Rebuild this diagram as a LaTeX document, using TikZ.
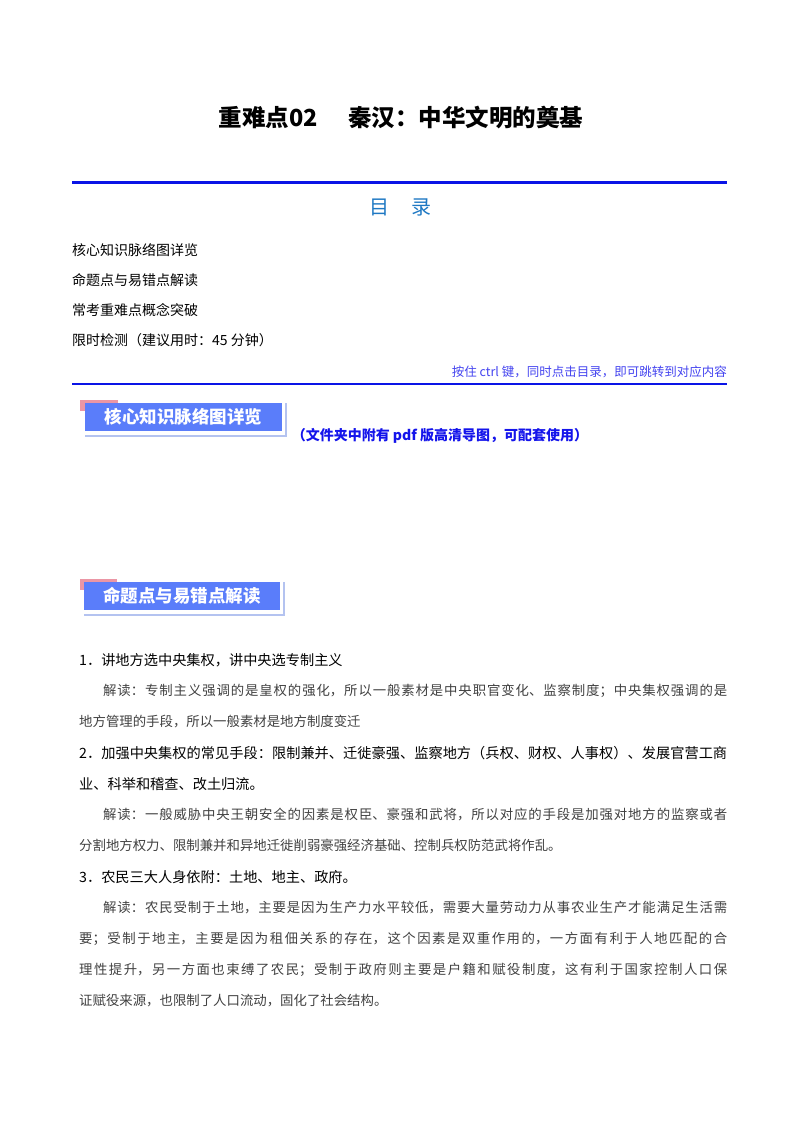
\documentclass[tikz,border=0pt]{standalone}
\usepackage{fontspec}
\setmainfont{Noto Sans CJK SC}
\XeTeXlinebreaklocale "zh"
\XeTeXlinebreakskip=0pt plus 3pt
\definecolor{bline}{RGB}{10,20,230}
\definecolor{tocblue}{RGB}{30,120,195}
\definecolor{banblue}{RGB}{90,125,250}
\definecolor{banpink}{RGB}{235,150,165}
\definecolor{banshadow}{RGB}{180,195,240}
\definecolor{notblue}{RGB}{20,20,235}
\begin{document}
\begin{tikzpicture}[x=1pt,y=-1pt,
  toc/.style={anchor=west,font=\fontsize{14}{16}\selectfont,inner sep=0},
  item/.style={anchor=north west,text width=648pt,inner sep=0,align=justify,
    font=\fontsize{14.2}{31}\selectfont},
  interp/.style={anchor=north west,text width=648pt,inner sep=0,align=justify,
    text=black!75,font=\fontsize{13.4}{31}\selectfont},
  bantext/.style={text=white,font=\fontsize{17.5}{19}\selectfont\bfseries,inner sep=0}]
\useasboundingbox (0,0) rectangle (800,1132);
\node[font=\fontsize{23.5}{26}\selectfont\bfseries] (title) at (401,118) {重难点02\hspace{30pt}秦汉：中华文明的奠基};
\draw[bline,line width=3pt] (72,182) -- (727,182);
\node[text=tocblue,font=\fontsize{20}{22}\selectfont] (mulu) at (400,207) {目\hspace{22pt}录};
\node[toc] (t1) at (72,250) {核心知识脉络图详览};
\node[toc] (t2) at (72,280) {命题点与易错点解读};
\node[toc] (t3) at (72,310) {常考重难点概念突破};
\node[toc] (t4) at (72,340) {限时检测（建议用时：45 分钟）};
\node[anchor=east,inner sep=0,text=notblue!80,font=\fontsize{12.5}{14}\selectfont] (hint) at (727,372) {按住 ctrl 键，同时点击目录，即可跳转到对应内容};
\draw[bline,line width=2pt] (72,384) -- (727,384);
% banner 1
\fill[banpink] (80,400) rectangle (118,411);
\draw[banshadow,line width=1.2pt] (286,403) -- (286,436) -- (85,436);
\fill[banblue] (85,403) rectangle (282,431);
\node[bantext] (b1) at (183.5,417) {核心知识脉络图详览};
\node[text=notblue,font=\fontsize{14}{16}\selectfont\bfseries,inner sep=0] (note) at (440,436) {（文件夹中附有 pdf 版高清导图，可配套使用）};
% banner 2
\fill[banpink] (80,579) rectangle (117,590);
\draw[banshadow,line width=1.2pt] (284,582) -- (284,615) -- (84,615);
\fill[banblue] (84,582) rectangle (280,610);
\node[bantext] (b2) at (182,596) {命题点与易错点解读};
% items
\node[item] (i1) at (79,653) {1．讲地方选中央集权，讲中央选专制主义};
\node[interp] (r1) at (79,684) {\hspace*{24pt}解读：专制主义强调的是皇权的强化，所以一般素材是中央职官变化、监察制度；中央集权强调的是\linebreak 地方管理的手段，所以一般素材是地方制度变迁};
\node[item] (i2) at (79,746) {\hangindent=17pt\hangafter=1 2．加强中央集权的常见手段：限制兼并、迁徙豪强、监察地方（兵权、财权、人事权）、发展官营工商\linebreak 业、科举和稽查、改土归流。};
\node[interp] (r2) at (79,808) {\hspace*{24pt}解读：一般威胁中央王朝安全的因素是权臣、豪强和武将，所以对应的手段是加强对地方的监察或者\linebreak 分割地方权力、限制兼并和异地迁徙削弱豪强经济基础、控制兵权防范武将作乱。};
\node[item] (i3) at (79,870) {3．农民三大人身依附：土地、地主、政府。};
\node[interp] (r3) at (79,901) {\hspace*{24pt}解读：农民受制于土地，主要是因为生产力水平较低，需要大量劳动力从事农业生产才能满足生活需\linebreak 要；受制于地主，主要是因为租佃关系的存在，这个因素是双重作用的，一方面有利于人地匹配的合\linebreak 理性提升，另一方面也束缚了农民；受制于政府则主要是户籍和赋役制度，这有利于国家控制人口保\linebreak 证赋役来源，也限制了人口流动，固化了社会结构。};
\end{tikzpicture}
\end{document}
